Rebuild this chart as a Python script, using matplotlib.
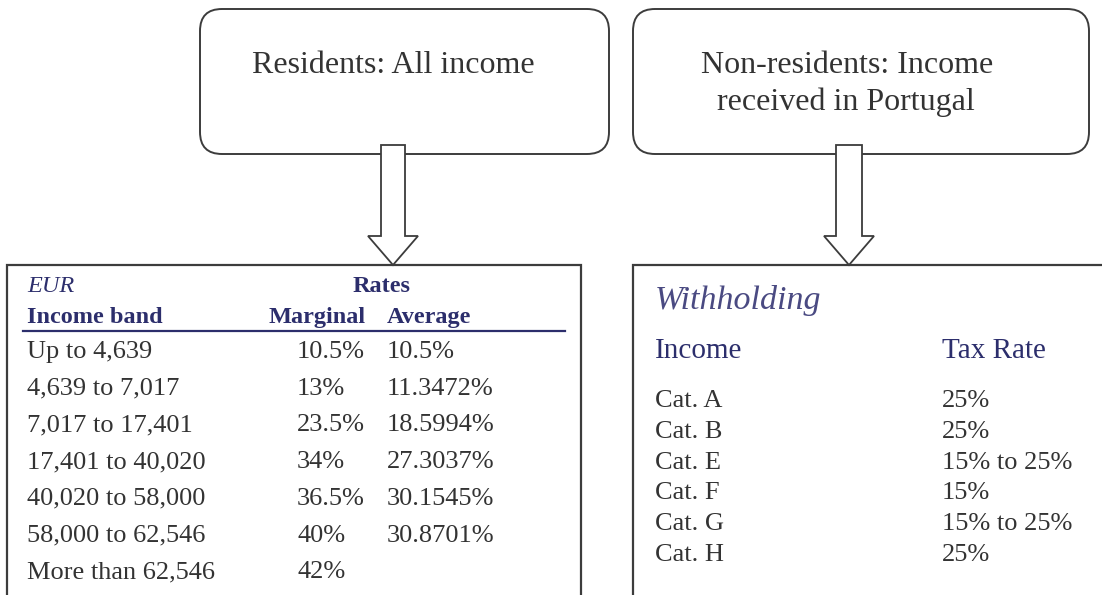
import matplotlib.pyplot as plt
from matplotlib.patches import FancyBboxPatch, Rectangle, Polygon

plt.rcParams['font.family'] = ['Liberation Serif', 'DejaVu Serif']

# residents table
bands = ['Up to 4,639', '4,639 to 7,017', '7,017 to 17,401', '17,401 to 40,020',
         '40,020 to 58,000', '58,000 to 62,546', 'More than 62,546']
marginal = ['10.5%', '13%', '23.5%', '34%', '36.5%', '40%', '42%']
average = ['10.5%', '11.3472%', '18.5994%', '27.3037%', '30.1545%', '30.8701%', '']

# non-residents withholding
cats = ['Cat. A', 'Cat. B', 'Cat. E', 'Cat. F', 'Cat. G', 'Cat. H']
cat_rates = ['25%', '25%', '15% to 25%', '15%', '15% to 25%', '25%']

navy = '#2c2e6c'
grey_txt = '#333333'
edge = '#3c3c3c'

fig = plt.figure(figsize=(11.02, 5.95), dpi=100)
ax = fig.add_axes([0, 0, 1, 1])
ax.set_xlim(0, 1102)
ax.set_ylim(595, 0)
ax.axis('off')

# top rounded boxes
for x0, x1 in [(200, 609), (633, 1089)]:
    ax.add_patch(FancyBboxPatch((x0, 9), x1 - x0, 145,
                                boxstyle='round,pad=0,rounding_size=22',
                                fc='white', ec=edge, lw=1.4, zorder=1))
ax.text(393, 73, 'Residents: All income', ha='center', va='baseline',
        fontsize=23, color=grey_txt)
ax.text(847, 73, 'Non-residents: Income', ha='center', va='baseline',
        fontsize=23, color=grey_txt)
ax.text(846, 110, 'received in Portugal', ha='center', va='baseline',
        fontsize=23, color=grey_txt)

# lower boxes
ax.add_patch(Rectangle((7, 265), 574, 340, fc='white', ec=edge, lw=1.6, zorder=1))
ax.add_patch(Rectangle((633, 265), 480, 340, fc='white', ec=edge, lw=1.6, zorder=1))


# block arrows
def block_arrow(cx, half_shaft, half_head):
    pts = [(cx - half_shaft, 145), (cx + half_shaft, 145), (cx + half_shaft, 236),
           (cx + half_head, 236), (cx, 265), (cx - half_head, 236),
           (cx - half_shaft, 236)]
    ax.add_patch(Polygon(pts, closed=True, fc='white', ec=edge, lw=1.3, zorder=3))


block_arrow(393, 12, 25)
block_arrow(849, 13, 25)

# residents table text
ax.text(27, 292, 'EUR', style='italic', fontsize=17.5, color=navy, va='baseline')
ax.text(382, 292, 'Rates', weight='bold', fontsize=17.5, color=navy,
        ha='center', va='baseline')
ax.text(27, 323, 'Income band', weight='bold', fontsize=17.5, color=navy, va='baseline')
ax.text(269, 323, 'Marginal', weight='bold', fontsize=17.5, color=navy, va='baseline')
ax.text(387, 323, 'Average', weight='bold', fontsize=17.5, color=navy, va='baseline')
ax.plot([23, 565], [331, 331], color=navy, lw=1.6)

for i, (b, m, a) in enumerate(zip(bands, marginal, average)):
    y = 358 + i * 36.7
    ax.text(27, y, b, fontsize=19, color=grey_txt, va='baseline')
    ax.text(297, y, m, fontsize=19, color=grey_txt, va='baseline')
    ax.text(387, y, a, fontsize=19, color=grey_txt, va='baseline')

# withholding text
ax.text(655, 309, 'Withholding', style='italic', fontsize=24.5, color='#4a4a82',
        va='baseline')
ax.text(655, 358, 'Income', fontsize=21, color=navy, va='baseline')
ax.text(942, 358, 'Tax Rate', fontsize=21, color=navy, va='baseline')
for i, (c, r) in enumerate(zip(cats, cat_rates)):
    y = 407 + i * 30.8
    ax.text(655, y, c, fontsize=19, color=grey_txt, va='baseline')
    ax.text(942, y, r, fontsize=19, color=grey_txt, va='baseline')

fig.savefig('out.png', dpi=100)
